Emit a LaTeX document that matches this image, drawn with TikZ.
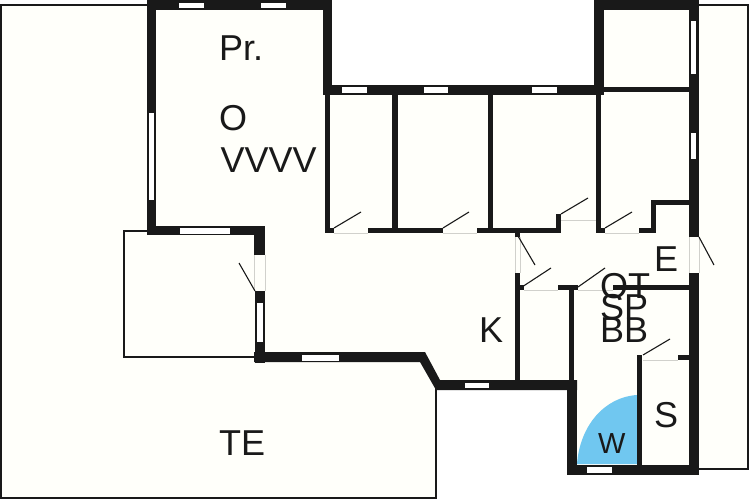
\documentclass[tikz,border=0pt]{standalone}
\usepackage{fontspec}
\setmainfont{Liberation Sans}
\newlength{\du}
\setlength{\du}{1pt}
\definecolor{floorcolor}{rgb}{1.000000, 1.000000, 0.980000}
\definecolor{wallcolor}{rgb}{0.100000, 0.100000, 0.100000}
\definecolor{doorcolor}{rgb}{0.820000, 0.820000, 0.800000}
\definecolor{showercolor}{rgb}{0.440000, 0.780000, 0.940000}
\tikzset{
  outline/.style={draw=wallcolor,line width=2\du},
  wall/.style={fill=wallcolor},
  sill/.style={fill=white},
  sillline/.style={draw=doorcolor,line width=1\du},
  leaf/.style={draw=wallcolor,line width=1.1\du},
  roomlabel/.style={anchor=base west,inner sep=0pt,text=wallcolor,font=\fontsize{36}{36}\selectfont}
}
\begin{document}
\begin{tikzpicture}
\pgftransformxscale{1.000000}
\pgftransformyscale{-1.000000}
\useasboundingbox (0\du,0\du) rectangle (750\du,500\du);
% floor
\fill[floorcolor] (0\du,5\du)--(147\du,5\du)--(147\du,0\du)--(332\du,0\du)--(332\du,85\du)--(594\du,85\du)--(594\du,0\du)--(699\du,0\du)--(699\du,5\du)--(748\du,5\du)--(748\du,469\du)--(699\du,469\du)--(699\du,475\du)--(567\du,475\du)--(567\du,390\du)--(436\du,390\du)--(436\du,498\du)--(0\du,498\du)--cycle;
% shower
\fill[showercolor] (577\du,464\du) .. controls (580\du,425\du) and (605\du,397\du) .. (637\du,395\du)--(637\du,464\du)--cycle;
% thin outlines
\draw[outline] (147\du,4.8\du)--(1.2\du,4.8\du)--(1.2\du,498\du)--(436\du,498\du)--(436\du,388\du);
\draw[outline] (699\du,5\du)--(748\du,5\du)--(748\du,469\du)--(699\du,469\du);
\draw[outline] (148\du,231\du)--(124\du,231\du)--(124\du,357\du)--(256\du,357\du);
% door openings
\draw[sillline] (334\du,233\du)--(368\du,233\du);
\draw[sillline] (443\du,233\du)--(477\du,233\du);
\draw[sillline] (561\du,220\du)--(596\du,220\du);
\draw[sillline] (605\du,233\du)--(639\du,233\du);
\draw[sillline] (689\du,237\du)--(689\du,273\du);
\draw[sillline] (699\du,237\du)--(699\du,273\du);
\draw[sillline] (515\du,237\du)--(515\du,273\du);
\draw[sillline] (520\du,237\du)--(520\du,273\du);
\draw[sillline] (524\du,290\du)--(558\du,290\du);
\draw[sillline] (578\du,290\du)--(613\du,290\du);
\draw[sillline] (643\du,360\du)--(678\du,360\du);
\draw[sillline] (254.5\du,255\du)--(254.5\du,291\du);
\draw[sillline] (265\du,255\du)--(265\du,291\du);
% thick walls
\fill[wall] (147\du,0\du) rectangle (332\du,10\du);
\fill[wall] (147\du,0\du) rectangle (156\du,235\du);
\fill[wall] (147\du,226\du) rectangle (265\du,235\du);
\fill[wall] (323\du,0\du) rectangle (332\du,95\du);
\fill[wall] (323\du,85\du) rectangle (604\du,95\du);
\fill[wall] (594\du,0\du) rectangle (604\du,95\du);
\fill[wall] (594\du,0\du) rectangle (699\du,10\du);
\fill[wall] (689\du,0\du) rectangle (699\du,237\du);
\fill[wall] (604\du,87\du) rectangle (689\du,92\du);
\fill[wall] (254\du,226\du) rectangle (265\du,255\du);
\fill[wall] (255\du,291\du) rectangle (265\du,363\du);
\fill[wall] (254\du,352\du)--(425\du,352\du)--(440\du,380\du)--(577\du,380\du)--(577\du,390\du)--(436\du,390\du)--(420\du,362\du)--(254\du,362\du)--cycle;
\fill[wall] (689\du,273\du) rectangle (699\du,475\du);
\fill[wall] (567\du,465\du) rectangle (699\du,475\du);
\fill[wall] (567\du,380\du) rectangle (577\du,475\du);
% partitions
\fill[wall] (325\du,95\du) rectangle (330\du,233\du);
\fill[wall] (392\du,95\du) rectangle (398\du,233\du);
\fill[wall] (488\du,95\du) rectangle (493\du,233\du);
\fill[wall] (596\du,95\du) rectangle (601\du,233\du);
\fill[wall] (325\du,228\du) rectangle (334\du,233\du);
\fill[wall] (368\du,228\du) rectangle (443\du,233\du);
\fill[wall] (477\du,228\du) rectangle (561\du,233\du);
\fill[wall] (556\du,214\du) rectangle (561\du,233\du);
\fill[wall] (596\du,228\du) rectangle (605\du,233\du);
\fill[wall] (639\du,228\du) rectangle (656\du,233\du);
\fill[wall] (651\du,200\du) rectangle (656\du,233\du);
\fill[wall] (651\du,200\du) rectangle (689\du,205\du);
\fill[wall] (515\du,233\du) rectangle (520\du,237\du);
\fill[wall] (515\du,273\du) rectangle (520\du,381\du);
\fill[wall] (515\du,285\du) rectangle (524\du,290\du);
\fill[wall] (558\du,285\du) rectangle (578\du,290\du);
\fill[wall] (613\du,285\du) rectangle (689\du,290\du);
\fill[wall] (569\du,290\du) rectangle (574\du,381\du);
\fill[wall] (637\du,355\du) rectangle (642\du,465\du);
\fill[wall] (678\du,355\du) rectangle (689\du,360\du);
% windows
\fill[sill] (179\du,3\du) rectangle (204\du,8\du);
\fill[sill] (261\du,3\du) rectangle (286\du,8\du);
\fill[sill] (149\du,113\du) rectangle (154\du,200\du);
\fill[sill] (180\du,228\du) rectangle (230\du,234\du);
\fill[sill] (342\du,87\du) rectangle (367\du,93\du);
\fill[sill] (424\du,87\du) rectangle (448\du,93\du);
\fill[sill] (532\du,87\du) rectangle (557\du,93\du);
\fill[sill] (691\du,21\du) rectangle (696\du,74\du);
\fill[sill] (691\du,133\du) rectangle (696\du,159\du);
\fill[sill] (257\du,303\du) rectangle (263\du,342\du);
\fill[sill] (302\du,355\du) rectangle (339\du,361\du);
\fill[sill] (465\du,383\du) rectangle (489\du,388\du);
\fill[sill] (587\du,467\du) rectangle (612\du,473\du);
% door leaves
\draw[leaf] (334\du,228\du)--(361\du,212\du);
\draw[leaf] (443\du,228\du)--(469\du,212\du);
\draw[leaf] (561\du,214\du)--(588\du,198\du);
\draw[leaf] (605\du,228\du)--(632\du,212\du);
\draw[leaf] (699\du,237\du)--(714\du,265\du);
\draw[leaf] (518\du,236\du)--(535\du,265\du);
\draw[leaf] (522\du,287\du)--(551\du,268\du);
\draw[leaf] (578\du,287\du)--(605\du,268\du);
\draw[leaf] (643\du,355\du)--(670\du,339\du);
\draw[leaf] (255\du,291\du)--(239\du,263\du);
% room names
\node[roomlabel] (pr) at (219\du,61\du){Pr.};
\node[roomlabel] (o) at (219\du,131\du){O};
\node[roomlabel] (vvvv) at (220.5\du,173\du){VVVV};
\node[roomlabel] (te) at (219\du,455\du){TE};
\node[roomlabel] (k) at (479\du,342\du){K};
\node[roomlabel] (e) at (654\du,271\du){E};
\node[roomlabel] (ot) at (600\du,298\du){OT};
\node[roomlabel] (sp) at (600\du,319\du){SP};
\node[roomlabel] (bb) at (600\du,342\du){BB};
\node[roomlabel] (s) at (654\du,427\du){S};
\node[roomlabel,font=\fontsize{29}{29}\selectfont] (w) at (598\du,453\du){W};
\end{tikzpicture}
\end{document}
